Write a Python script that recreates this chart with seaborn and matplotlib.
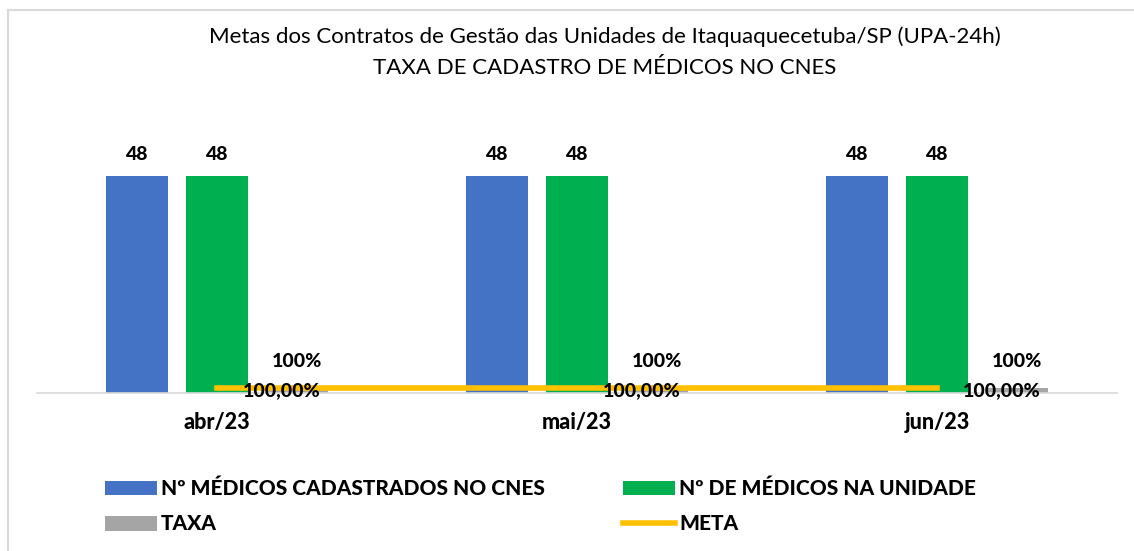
import matplotlib.pyplot as plt
import seaborn as sns
import pandas as pd
import numpy as np
from matplotlib.lines import Line2D
from matplotlib.patches import Patch

meses = ['abr/23', 'mai/23', 'jun/23']
cadastrados = [48, 48, 48]
na_unidade = [48, 48, 48]
taxa = [1.0, 1.0, 1.0]
meta = [1.0, 1.0, 1.0]

series = ['Nº MÉDICOS CADASTRADOS NO CNES', 'Nº DE MÉDICOS NA UNIDADE', 'TAXA']
cores = ['#4472C4', '#00B050', '#A5A5A5']

df = pd.DataFrame({
    'mes': meses * 3,
    'serie': np.repeat(series, 3),
    'valor': cadastrados + na_unidade + taxa,
})

W, H = 1134, 551
fig = plt.figure(figsize=(W / 100, H / 100), dpi=100)
fig.patch.set_facecolor('white')

# plot area in pixels: x 37..1117, baseline at y=393, top at 122
ax = fig.add_axes([37 / W, 1 - 393 / H, 1080 / W, 271 / H])

sns.barplot(data=df, x='mes', y='valor', hue='serie', order=meses, hue_order=series,
            palette=cores, width=0.667, gap=0.225, saturation=1, legend=False, ax=ax)

x = np.arange(len(meses))
sns.lineplot(x=x, y=meta, color='#FFC000', linewidth=4, ax=ax, legend=False)

ax.set_xlim(-0.5, 2.5)
ax.set_ylim(0, 60)
ax.set_xlabel('')
ax.set_ylabel('')
ax.set_yticks([])
for s in ['top', 'right', 'left']:
    ax.spines[s].set_visible(False)
ax.spines['bottom'].set_color('#D9D9D9')
ax.spines['bottom'].set_linewidth(1.2)
ax.tick_params(axis='x', length=0, pad=14)
ax.set_xticklabels(meses, fontsize=15.5, fontweight='black', family='Lato')

fonte = dict(fontsize=14, fontweight='black', family='Lato', color='black')
off = 0.222
for i in range(len(meses)):
    ax.text(x[i] - off, cadastrados[i] + 2.9, f'{cadastrados[i]}', ha='center', va='bottom', **fonte)
    ax.text(x[i], na_unidade[i] + 2.9, f'{na_unidade[i]}', ha='center', va='bottom', **fonte)
    ax.text(x[i] + off, taxa[i] + 4.0, f'{taxa[i]:.0%}', ha='center', va='bottom', **fonte)
    ax.text(x[i] + 0.072, meta[i] - 0.4, f'{meta[i] * 100:.2f}%'.replace('.', ','),
            ha='left', va='center', **fonte)

fig.text(605 / W, 1 - 37 / H, 'Metas dos Contratos de Gestão das Unidades de Itaquaquecetuba/SP (UPA-24h)',
         ha='center', va='center', fontsize=16, family='Lato')
fig.text(605 / W, 1 - 68 / H, 'TAXA DE CADASTRO DE MÉDICOS NO CNES',
         ha='center', va='center', fontsize=16, family='Lato')

# column-wise fill: row 1 = cadastrados / na unidade, row 2 = taxa / meta
handles = [Patch(facecolor=cores[0]), Patch(facecolor=cores[2]),
           Patch(facecolor=cores[1]), Line2D([0], [0], color='#FFC000', linewidth=4)]
labels = [series[0], series[2], series[1], 'META']
fig.legend(handles, labels, loc='upper left', bbox_to_anchor=(86 / W, 1 - 460 / H), ncol=2,
           frameon=False, prop=dict(size=15, weight='black', family='Lato'),
           handlelength=2.5, handleheight=0.7, handletextpad=0.2, columnspacing=3.75,
           labelspacing=0.78)

# outer border (top and left visible)
fig.add_artist(Line2D([7.5 / W, 1], [1 - 10 / H, 1 - 10 / H], color='#D9D9D9', linewidth=1.5))
fig.add_artist(Line2D([7.5 / W, 7.5 / W], [0, 1 - 10 / H], color='#D9D9D9', linewidth=1.5))

fig.savefig('out.png', dpi=100, facecolor='white')
